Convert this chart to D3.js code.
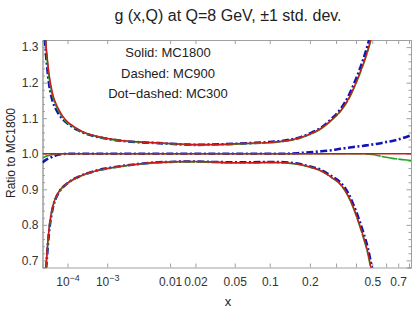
<!DOCTYPE html>
<html>
<head>
<meta charset="utf-8">
<script src="https://cdn.jsdelivr.net/npm/d3@7"></script>
<style>
  body { margin: 0; background: #fff; }
  svg { display: block; font-family: "Liberation Sans", Arial, sans-serif; }
</style>
</head>
<body>
<div id="chart"></div>
<script>
// x grid shared by all curves
const xGrid = [1e-5, 1.2e-5, 1.4e-5, 1.7e-5, 2e-5, 2.5e-5, 3e-5, 4e-5, 5e-5, 7e-5,
  1e-4, 1.5e-4, 2e-4, 3e-4, 5e-4, 7e-4, 1e-3, 2e-3, 4e-3, 7e-3,
  0.01, 0.015, 0.02, 0.03, 0.05, 0.07, 0.1, 0.13, 0.17, 0.2,
  0.24, 0.28, 0.32, 0.36, 0.4, 0.44, 0.47, 0.5, 0.55, 0.6,
  0.65, 0.7, 0.75, 0.82];

// MC1800 (solid, red)
const mc1800Central = [1, 1, 1, 1, 1, 1, 1, 1, 1, 1,
  1, 1, 1, 1, 1, 1, 1, 1, 1, 1,
  1, 1, 1, 1, 1, 1, 1, 1, 1, 1,
  1, 1, 1, 1, 1, 1, 1, 1, 1, 1,
  1, 1, 1, 1];
const mc1800Upper = [1.55, 1.42, 1.33, 1.27, 1.23, 1.19, 1.165, 1.14, 1.125, 1.105,
  1.09, 1.078, 1.07, 1.06, 1.052, 1.047, 1.043, 1.037, 1.033, 1.031,
  1.029, 1.027, 1.026, 1.026, 1.028, 1.03, 1.032, 1.036, 1.045, 1.055,
  1.072, 1.095, 1.12, 1.155, 1.2, 1.25, 1.29, 1.34, 1.45, 1.6,
  null, null, null, null];
const mc1800Lower = [0.5, 0.58, 0.66, 0.735, 0.785, 0.83, 0.855, 0.88, 0.893, 0.907,
  0.918, 0.928, 0.934, 0.942, 0.95, 0.955, 0.959, 0.966, 0.972, 0.976,
  0.977, 0.978, 0.978, 0.977, 0.975, 0.975, 0.976, 0.975, 0.97, 0.963,
  0.952, 0.934, 0.915, 0.88, 0.83, 0.772, 0.725, 0.66, 0.55, 0.4,
  null, null, null, null];

// MC900 (dashed, green)
const mc900Central = [0.988, 0.99, 0.992, 0.994, 0.995, 0.997, 0.998, 0.999, 1, 1,
  1, 1, 1, 1, 1, 1, 1, 1, 1, 1,
  1, 1, 1, 1, 1, 1, 1, 1, 1, 1,
  1, 1, 1, 1, 1, 1, 0.999, 0.998, 0.994, 0.99,
  0.987, 0.985, 0.983, 0.981];
const mc900Upper = [1.52, 1.4, 1.32, 1.26, 1.22, 1.18, 1.158, 1.134, 1.12, 1.101,
  1.087, 1.076, 1.068, 1.059, 1.051, 1.046, 1.042, 1.036, 1.032, 1.03,
  1.028, 1.026, 1.025, 1.025, 1.027, 1.029, 1.031, 1.035, 1.044, 1.054,
  1.071, 1.094, 1.119, 1.153, 1.198, 1.247, 1.287, 1.335, 1.44, 1.58,
  null, null, null, null];
const mc900Lower = [0.49, 0.57, 0.65, 0.728, 0.78, 0.826, 0.852, 0.878, 0.892, 0.906,
  0.917, 0.927, 0.933, 0.941, 0.949, 0.954, 0.958, 0.965, 0.971, 0.975,
  0.976, 0.977, 0.977, 0.976, 0.974, 0.974, 0.975, 0.974, 0.969, 0.962,
  0.951, 0.933, 0.913, 0.878, 0.827, 0.768, 0.72, 0.655, 0.545, 0.39,
  null, null, null, null];

// MC300 (dot-dashed, blue)
const mc300Central = [0.975, 0.979, 0.982, 0.985, 0.987, 0.99, 0.993, 0.996, 0.998, 0.999,
  1, 1, 1, 1, 1, 1, 1, 1, 1, 1,
  1, 1, 1, 1, 1, 1, 1, 1, 1.002, 1.004,
  1.007, 1.01, 1.014, 1.017, 1.02, 1.022, 1.024, 1.026, 1.029, 1.033,
  1.036, 1.04, 1.045, 1.052];
const mc300Upper = [1.48, 1.37, 1.3, 1.24, 1.2, 1.165, 1.145, 1.125, 1.112, 1.097,
  1.085, 1.074, 1.067, 1.058, 1.05, 1.046, 1.042, 1.036, 1.032, 1.03,
  1.028, 1.026, 1.025, 1.026, 1.028, 1.03, 1.033, 1.037, 1.046, 1.057,
  1.074, 1.098, 1.125, 1.163, 1.21, 1.262, 1.305, 1.355, 1.465, 1.615,
  null, null, null, null];
const mc300Lower = [0.48, 0.56, 0.645, 0.722, 0.775, 0.823, 0.85, 0.877, 0.891, 0.906,
  0.917, 0.928, 0.934, 0.942, 0.95, 0.955, 0.959, 0.966, 0.972, 0.976,
  0.977, 0.978, 0.978, 0.977, 0.976, 0.976, 0.977, 0.976, 0.971, 0.964,
  0.954, 0.937, 0.919, 0.887, 0.838, 0.782, 0.736, 0.675, 0.57, 0.43,
  null, null, null, null];

const xTicks = [1e-4, 1e-3, 0.01, 0.02, 0.05, 0.1, 0.2, 0.3, 0.4, 0.5, 0.6, 0.7, 0.8];
const xTickLabels = ["10^-4", "10^-3", "0.01", "0.02", "0.05", "0.1", "0.2", "", "", "0.5", "", "0.7", ""];
const yTicks = [0.7, 0.8, 0.9, 1.0, 1.1, 1.2, 1.3];
const legendLines = ["Solid: MC1800", "Dashed: MC900", "Dot\u2212dashed: MC300"];

const width = 413, height = 309;
const plotLeft = 42.5, plotRight = 411, plotTop = 40, plotBottom = 267.5;

const svg = d3.select("#chart").append("svg")
  .attr("width", width)
  .attr("height", height);

// x axis is x^0.2 scaled
const x = d3.scalePow().exponent(0.2).domain([1e-5, 0.82]).range([plotLeft, plotRight]);
const y = d3.scaleLinear().domain([0.68, 1.32]).range([plotBottom, plotTop]);

svg.append("defs").append("clipPath").attr("id", "plotclip")
  .append("rect")
  .attr("x", plotLeft).attr("y", plotTop)
  .attr("width", plotRight - plotLeft).attr("height", plotBottom - plotTop);

const frameColor = "#a0a0a0";
const labelColor = "#333";

// frame + ticks
const gx = svg.append("g").attr("transform", `translate(0,${plotBottom})`)
  .call(d3.axisBottom(x).tickValues(xTicks).tickSize(-4).tickFormat(""));
const gxTop = svg.append("g").attr("transform", `translate(0,${plotTop})`)
  .call(d3.axisTop(x).tickValues(xTicks).tickSize(-4).tickFormat(""));
const yMinor = d3.range(0, 33).map(i => +(0.68 + i * 0.02).toFixed(2))
  .filter(v => !yTicks.some(t => Math.abs(t - v) < 1e-6));
const gyMinor = svg.append("g").attr("transform", `translate(${plotLeft},0)`)
  .call(d3.axisLeft(y).tickValues(yMinor).tickSize(-2.5).tickFormat(""));
const gy = svg.append("g").attr("transform", `translate(${plotLeft},0)`)
  .call(d3.axisLeft(y).tickValues(yTicks).tickSize(-4.5).tickPadding(4).tickFormat(d3.format(".1f")));
const gyRMinor = svg.append("g").attr("transform", `translate(${plotRight},0)`)
  .call(d3.axisRight(y).tickValues(yMinor).tickSize(-2.5).tickFormat(""));
const gyR = svg.append("g").attr("transform", `translate(${plotRight},0)`)
  .call(d3.axisRight(y).tickValues(yTicks).tickSize(-4.5).tickFormat(""));

[gx, gxTop, gyMinor, gy, gyRMinor, gyR].forEach(g => {
  g.selectAll(".domain").attr("stroke", frameColor);
  g.selectAll(".tick line").attr("stroke", frameColor);
  g.selectAll("text").attr("fill", labelColor).style("font-size", "12px")
    .style("font-family", "'Liberation Sans', Arial, sans-serif");
});

// x tick labels, with superscripts for powers of ten
gx.selectAll(".tick").each(function(d, i) {
  const lab = xTickLabels[i];
  if (!lab) return;
  const t = d3.select(this).append("text")
    .attr("y", 18.5)
    .attr("fill", labelColor)
    .attr("text-anchor", "middle")
    .style("font-size", "12px");
  if (lab.includes("^")) {
    const parts = lab.split("^");
    t.append("tspan").text(parts[0]);
    t.append("tspan").attr("dy", -5).style("font-size", "9px")
      .text(parts[1].replace("-", "\u2212"));
  } else {
    t.text(lab);
  }
});

const plot = svg.append("g").attr("clip-path", "url(#plotclip)");

const line = vals => d3.line()
  .defined((d, i) => vals[i] != null)
  .x(d => x(d))
  .y((d, i) => y(vals[i]))
  .curve(d3.curveMonotoneX)(xGrid);

const series = [
  { name: "MC300", color: "#1414b4", width: 2.6, dash: "7,2.5,2,2.5", curves: [mc300Central, mc300Upper, mc300Lower] },
  { name: "MC900", color: "#27a227", width: 1.6, dash: "16,1", curves: [mc900Central, mc900Upper, mc900Lower] },
  { name: "MC1800", color: "#cc1a1a", width: 1.4, dash: null, curves: [mc1800Central, mc1800Upper, mc1800Lower] }
];

series.forEach(s => {
  s.curves.forEach(vals => {
    plot.append("path")
      .attr("d", line(vals))
      .attr("fill", "none")
      .attr("stroke", s.color)
      .attr("stroke-width", s.width)
      .attr("stroke-dasharray", s.dash);
  });
});

// title
svg.append("text")
  .attr("x", 228).attr("y", 21)
  .attr("text-anchor", "middle")
  .attr("fill", "#222")
  .style("font-size", "16px")
  .text("g (x,Q) at Q=8 GeV, \u00b11 std. dev.");

// legend text
svg.append("g").selectAll("text")
  .data(legendLines)
  .join("text")
  .attr("x", 168)
  .attr("y", (d, i) => 57 + i * 20.5)
  .attr("text-anchor", "middle")
  .attr("fill", "#222")
  .style("font-size", "13px")
  .text(d => d);

// axis labels
svg.append("text")
  .attr("x", 228).attr("y", 306)
  .attr("text-anchor", "middle")
  .attr("fill", "#222")
  .style("font-size", "13px")
  .text("x");

svg.append("text")
  .attr("transform", "translate(15,153) rotate(-90)")
  .attr("text-anchor", "middle")
  .attr("fill", "#222")
  .style("font-size", "12px")
  .text("Ratio to MC1800");
</script>
</body>
</html>
